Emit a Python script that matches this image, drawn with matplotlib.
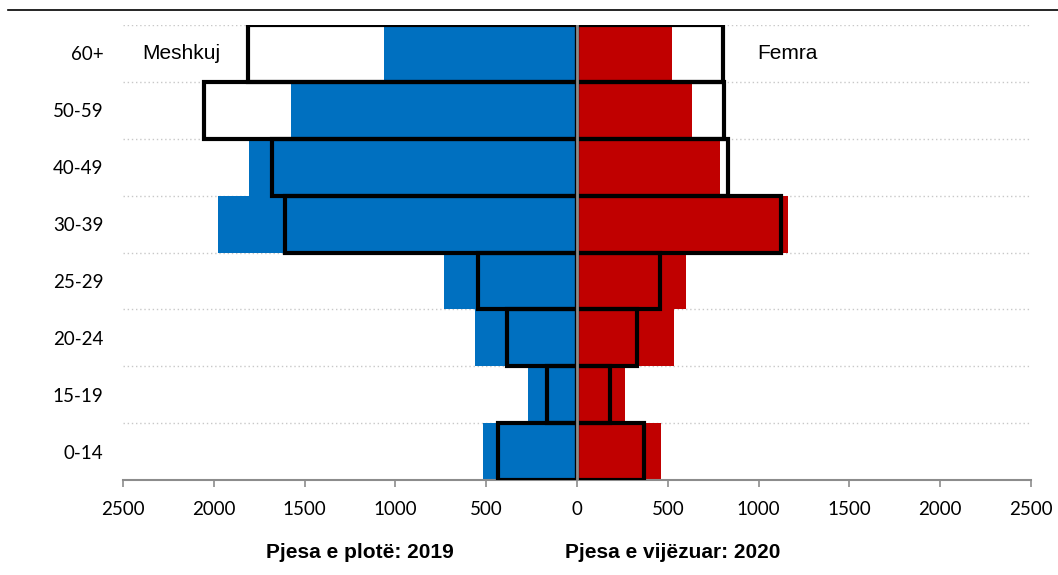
import numpy as np
import matplotlib
matplotlib.use("Agg")
import matplotlib.pyplot as plt

# grupmoshat, nga poshte lart
grupmosha = ["0-14", "15-19", "20-24", "25-29", "30-39", "40-49", "50-59", "60+"]

# 2019 (pjesa e plote)
meshkuj_2019 = [518, 270, 562, 732, 1977, 1806, 1575, 1063]
femra_2019 = [463, 264, 534, 600, 1162, 787, 633, 523]

# 2020 (pjesa e vijezuar)
meshkuj_2020 = [435, 165, 385, 545, 1608, 1680, 2054, 1812]
femra_2020 = [369, 182, 330, 457, 1123, 831, 809, 804]

fig = plt.figure(figsize=(10.58, 5.75), dpi=100)
ax = fig.add_axes([0.1163, 0.1652, 0.8582, 0.7913])

y = np.arange(len(grupmosha))

# vijat e rrjetit (me pika) ne kufijte e kategorive
for g in np.arange(0.5, len(grupmosha), 1.0):
    ax.axhline(g, color="#c8c8c8", lw=1.0, ls=(0, (1, 2)), zorder=0)

ax.barh(y, -np.array(meshkuj_2019), height=1.0, color="#0070c0", zorder=2)
ax.barh(y, femra_2019, height=1.0, color="#c00000", zorder=2)

ax.barh(y, -np.array(meshkuj_2020), height=1.0, facecolor="none",
        edgecolor="black", lw=3, zorder=3)
ax.barh(y, femra_2020, height=1.0, facecolor="none",
        edgecolor="black", lw=3, zorder=3)

ax.axvline(0, color="#8c8c8c", lw=2, zorder=4)

ax.set_xlim(-2500, 2500)
ax.set_ylim(-0.5, len(grupmosha) - 0.5)
ticks = np.arange(-2500, 2501, 500)
ax.set_xticks(ticks)
ax.set_xticklabels([str(abs(t)) for t in ticks], fontsize=13.5, family="Lato")
ax.set_yticks(y)
ax.set_yticklabels(grupmosha, fontsize=13.5, family="Lato")
ax.tick_params(axis="y", length=0, pad=14)
ax.tick_params(axis="x", length=5, width=1.2, color="#8c8c8c", pad=10)

for s in ["top", "right", "left"]:
    ax.spines[s].set_visible(False)
ax.spines["bottom"].set_color("#8c8c8c")
ax.spines["bottom"].set_linewidth(1.5)

ax.text(-2395, 7, "Meshkuj", fontsize=15, va="center", ha="left", family="Liberation Sans")
ax.text(990, 7, "Femra", fontsize=15, va="center", ha="left", family="Liberation Sans")

fig.text(360 / 1058, 1 - 552 / 575, "Pjesa e plotë: 2019", fontsize=15,
         fontweight="bold", ha="center", va="center", family="Liberation Sans")
fig.text(673 / 1058, 1 - 552 / 575, "Pjesa e vijëzuar: 2020", fontsize=15,
         fontweight="bold", ha="center", va="center", family="Liberation Sans")

# vija e siperme
fig.add_artist(plt.Line2D([0.008, 1.0], [1 - 10 / 575, 1 - 10 / 575],
                          color="black", lw=1.2))

fig.savefig("out.png", dpi=100)
